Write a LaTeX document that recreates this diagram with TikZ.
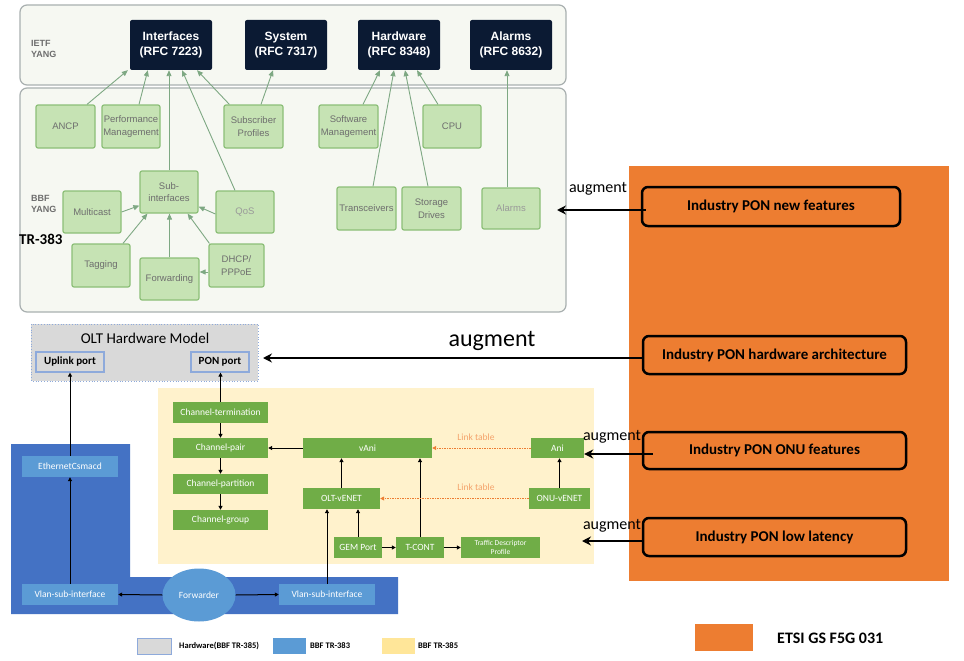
\documentclass[tikz,border=0pt]{standalone}
\usepackage{fontspec}
\setmainfont{Carlito}
\newfontfamily\arialf{Liberation Sans}
\usetikzlibrary{arrows.meta,calc,shapes.geometric}
\definecolor{navy}{HTML}{0B1A33}
\definecolor{lgfill}{HTML}{C6E3B4}
\definecolor{lgdraw}{HTML}{8CBF78}
\definecolor{lgtext}{HTML}{6E6E6E}
\definecolor{conc}{HTML}{7EA883}
\definecolor{panel}{HTML}{F6F8F2}
\definecolor{paneldraw}{HTML}{A9B0B0}
\definecolor{dgreen}{HTML}{70AD47}
\definecolor{dblue}{HTML}{4472C4}
\definecolor{lblue}{HTML}{5B9BD5}
\definecolor{yel}{HTML}{FFF2CC}
\definecolor{yelleg}{HTML}{FFE699}
\definecolor{orng}{HTML}{ED7D31}
\definecolor{lorng}{HTML}{F4A36B}
\definecolor{hwgray}{HTML}{D9D9D9}
\definecolor{portblue}{HTML}{8EAADB}
\definecolor{brownhead}{HTML}{8C7B5E}
\newcommand{\mybox}[7]{\node[#1, minimum width={(#5)-(#3)}, minimum height={(#6)-(#4)}] (#2) at ({((#3)+(#5))/2},{((#4)+(#6))/2}) {#7};}
\begin{document}
\begin{tikzpicture}[x=1pt,y=-1pt,
  ietf/.style={fill=navy, rounded corners=2pt, text=white, inner sep=0pt, align=center,
    font=\arialf\bfseries\fontsize{12}{15}\selectfont},
  bbf/.style={fill=lgfill, draw=lgdraw, line width=1.2pt, rounded corners=2pt, text=lgtext, inner sep=0pt, align=center,
    font=\arialf\fontsize{9.5}{12.5}\selectfont},
  con/.style={draw=conc, line width=0.9pt, -{Triangle[length=6pt,width=5pt,fill=conc]}},
  gbox/.style={fill=dgreen, text=white, inner sep=0pt, align=center, font=\fontsize{9.5}{11}\selectfont},
  bbox/.style={fill=lblue, text=white, inner sep=0pt, align=center, font=\fontsize{9.5}{11}\selectfont},
  port/.style={fill=hwgray, draw=portblue, line width=1.2pt, inner sep=0pt, font=\bfseries\fontsize{11}{13}\selectfont},
  blk/.style={draw=black, line width=1pt, -{Triangle[length=4pt,width=4pt]}},
  link/.style={draw=orng, line width=0.8pt, dash pattern=on 1.5pt off 1pt, -{Triangle[length=4pt,width=4pt]}},
  ind/.style={draw=black, line width=2.5pt, rounded corners=6pt, fill=orng, inner sep=0pt,
    font=\bfseries\fontsize{15}{17}\selectfont},
  aug/.style={draw=black, line width=2.5pt, -{Stealth[length=9pt,width=9pt]}},
  auglbl/.style={font=\fontsize{16}{18}\selectfont, inner sep=0pt},
  lab/.style={text=lgtext, font=\arialf\bfseries\fontsize{9}{11}\selectfont, align=left, inner sep=0pt, anchor=west},
  leg/.style={font=\bfseries\fontsize{8.5}{10}\selectfont, inner sep=0pt, anchor=west}
]
\useasboundingbox (0,0) rectangle (964,661);
\fill[white] (0,0) rectangle (964,661);

% panels
\draw[fill=panel, draw=paneldraw, line width=1.2pt, rounded corners=7pt] (20,5) rectangle (566,85);
\draw[fill=panel, draw=paneldraw, line width=1.2pt, rounded corners=7pt] (20,88) rectangle (566,312);
\node[lab] (ietflbl) at (31,49) {IETF\\YANG};
\node[lab] (bbflbl) at (31,204) {BBF\\YANG};
\node[font=\bfseries\fontsize{15}{17}\selectfont, inner sep=0pt, anchor=west] (tr383) at (19,239) {TR-383};

% IETF boxes
\mybox{ietf}{ifc}{130}{20}{212}{70}{Interfaces\\(RFC 7223)}
\mybox{ietf}{sys}{245}{20}{327}{70}{System\\(RFC 7317)}
\mybox{ietf}{hw}{358}{20}{440}{70}{Hardware\\(RFC 8348)}
\mybox{ietf}{alm}{470}{20}{552}{70}{Alarms\\(RFC 8632)}

% BBF boxes
\mybox{bbf}{ancp}{36}{105}{95}{148}{ANCP}
\mybox{bbf}{perf}{102}{105}{160}{148}{Performance\\Management}
\mybox{bbf}{subp}{224}{105}{283}{148}{Subscriber\\Profiles}
\mybox{bbf}{swm}{319}{105}{378}{148}{Software\\Management}
\mybox{bbf}{cpu}{423}{105}{481}{148}{CPU}
\mybox{bbf}{subif}{140}{171}{198}{213}{Sub-\\interfaces}
\mybox{bbf}{mcast}{63}{191}{121}{233}{Multicast}
\mybox{bbf,text=gray!80}{qos}{216}{191}{274}{233}{QoS}
\mybox{bbf}{trx}{337}{187}{396}{230}{Transceivers}
\mybox{bbf}{stor}{402}{187}{461}{230}{Storage\\Drives}
\mybox{bbf,text=gray!80}{balm}{482}{188}{540}{229}{Alarms}
\mybox{bbf}{tag}{72}{244}{130}{287}{Tagging}
\mybox{bbf}{fwd}{140}{258}{199}{300}{Forwarding}
\mybox{bbf}{dhcp}{209}{244}{264}{287}{DHCP/\\PPPoE}

% BBF -> IETF connectors
\draw[con] ($(ancp.north)+(21.5,0)$) -- ($(ifc.south west)+(-2,0)$);
\draw[con] ($(perf.north)+(8,0)$) -- ($(ifc.south west)+(18,0)$);
\draw[con] (subif.north) -- (subif.north |- ifc.south);
\draw[con] ($(qos.north)+(-10,0)$) -- ($(ifc.south)+(11,0)$);
\draw[con] ($(subp.north west)+(6,0)$) -- ($(ifc.south)+(26,0)$);
\draw[con] ($(subp.north)+(7.5,0)$) -- ($(sys.south)+(-13,0)$);
\draw[con] ($(swm.north)+(14.5,0)$) -- ($(hw.south)+(-19,0)$);
\draw[con] ($(trx.north)+(6.5,0)$) -- ($(hw.south)+(-5,0)$);
\draw[con] ($(stor.north)+(-3.5,0)$) -- ($(hw.south)+(6,0)$);
\draw[con] ($(cpu.north)+(-14,0)$) -- ($(hw.south)+(18,0)$);
\draw[con] ($(balm.north)+(-4,0)$) -- ($(alm.south)+(-4,0)$);
% inside BBF
\draw[con] (mcast.east) -- ($(subif.south west)+(0,-8)$);
\draw[con] ($(tag.north)+(22,0)$) -- ($(subif.south west)+(8,0)$);
\draw[con] (fwd.north) -- (fwd.north |- subif.south);
\draw[con] ($(dhcp.north west)+(1,0)$) -- ($(subif.south east)+(-11,0)$);
\draw[con] ($(qos.west)+(0,2)$) -- ($(subif.south east)+(0,-7)$);
\draw[con] ($(dhcp.west)+(0,6.5)$) coordinate (dh) -- (dh -| fwd.east);

% OLT hardware model
\draw[fill=hwgray, draw=portblue, dotted, line width=0.8pt] (31,324) rectangle (258,381);
\node[font=\fontsize{15}{17}\selectfont, inner sep=0pt] (oltt) at (145,338) {OLT Hardware Model};
\mybox{port}{uplink}{36}{352}{104}{372}{Uplink port}
\mybox{port}{pon}{191}{352}{249}{372}{PON port}

% TR-385 region and TR-383 region
\fill[yel] (158,388) rectangle (594,564);
\fill[dblue] (11,444) -- (130,444) -- (130,577) -- (398,577) -- (398,614) -- (11,614) -- cycle;

\mybox{gbox}{ct}{173}{402}{268}{423}{Channel-termination}
\mybox{gbox}{cp}{173}{438}{268}{458}{Channel-pair}
\mybox{gbox}{cpart}{173}{474}{268}{494}{Channel-partition}
\mybox{gbox}{cg}{173}{510}{268}{530}{Channel-group}
\mybox{gbox}{vani}{303}{438}{432}{458}{vAni}
\mybox{gbox}{oltv}{303}{488}{380}{509}{OLT-vENET}
\mybox{gbox}{gem}{334}{537}{382}{558}{GEM Port}
\mybox{gbox}{tcont}{396}{537}{444}{558}{T-CONT}
\mybox{gbox,font=\fontsize{7.5}{9.5}\selectfont}{tdp}{461}{537}{540}{558}{Traffic Descriptor\\Profile}
\mybox{gbox}{ani}{531}{438}{584}{458}{Ani}
\mybox{gbox}{onuv}{529}{488}{590}{509}{ONU-vENET}

\mybox{bbox}{eth}{22}{456}{118}{477}{EthernetCsmacd}
\mybox{bbox}{vl1}{22}{584}{118}{605}{Vlan-sub-interface}
\mybox{bbox}{vl2}{279}{584}{375}{605}{Vlan-sub-interface}
\node[ellipse, fill=lblue, text=white, minimum width=73, minimum height=53, inner sep=0pt, font=\fontsize{9.5}{11}\selectfont] (fwdr) at (199,595) {Forwarder};

% black connectors
\draw[blk] (ct.north) -- (ct.north |- pon.south);
\draw[blk] (ct.south) -- (cp.north);
\draw[blk] (cp.south) -- (cpart.north);
\draw[blk] (cpart.south) -- (cg.north);
\draw[blk] (vani.west) -- (cp.east);
\draw[blk] (oltv.north) -- (oltv.north |- vani.south);
\draw[blk] (gem.north) -- (gem.north |- oltv.south);
\draw[blk] (gem.east) -- (tcont.west);
\draw[blk] (tcont.north) -- (tcont.north |- vani.south);
\draw[blk] (tcont.east) -- (tdp.west);
\draw[blk] (onuv.north) -- (onuv.north |- ani.south);
\draw[blk] (vl1.north) -- (eth.south);
\draw[blk] (eth.north) -- (eth.north |- uplink.south);
\draw[blk] (fwdr.west) -- (vl1.east);
\draw[blk] (fwdr.east) -- (vl2.west);
\draw[blk] (vl2.north) -- (vl2.north |- oltv.south);
\draw[link] (ani.west) -- (vani.east);
\draw[link] (onuv.west) -- (oltv.east);
\node[text=lorng, font=\fontsize{9.5}{11}\selectfont, inner sep=0pt] (lt1) at (476,437) {Link table};
\node[text=lorng, font=\fontsize{9.5}{11}\selectfont, inner sep=0pt] (lt2) at (476,487) {Link table};

% ETSI region
\fill[orng] (629,166) rectangle (949,581);
\mybox{ind}{f1}{642}{187}{900}{226}{Industry PON new features}
\mybox{ind}{f2}{643}{336}{906}{374}{Industry PON hardware architecture}
\mybox{ind}{f3}{643}{432}{906}{469}{Industry PON ONU features}
\mybox{ind}{f4}{643}{518}{906}{556}{Industry PON low latency}

\coordinate (t1) at (557,210);
\coordinate (t2) at (263,358);
\coordinate (t4) at (582,541);
\draw[aug] ($(f1.west)+(5,3.5)$) -- (t1);
\draw[aug] (f2.west |- t2) -- (t2);
\draw[aug] ($(f3.west)+(11,3.5)$) -- (ani.east |- {0,454});
\draw[draw=black, line width=2.5pt, -{Stealth[length=9pt,width=9pt,fill=brownhead]}] (f4.west |- t4) -- (t4);
\node[auglbl] (a1) at (598,189) {augment};
\node[font=\fontsize{24}{26}\selectfont, inner sep=0pt] (a2) at (492,341) {augment};
\node[auglbl] (a3) at (612,437) {augment};
\node[auglbl] (a4) at (612,526) {augment};

% legend
\draw[fill=hwgray, draw=portblue, line width=0.8pt] (137,638) rectangle (171,654);
\node[leg] (l1) at (179,646) {Hardware(BBF TR-385)};
\fill[lblue] (273,638) rectangle (306,654);
\node[leg] (l2) at (310,646) {BBF TR-383};
\fill[yelleg] (382,638) rectangle (415,654);
\node[leg] (l3) at (418,646) {BBF TR-385};
\fill[orng] (695,624) rectangle (753,651);
\node[font=\bfseries\fontsize{16}{18}\selectfont, inner sep=0pt, anchor=west] (l4) at (777,638) {ETSI GS F5G 031};
\end{tikzpicture}
\end{document}
